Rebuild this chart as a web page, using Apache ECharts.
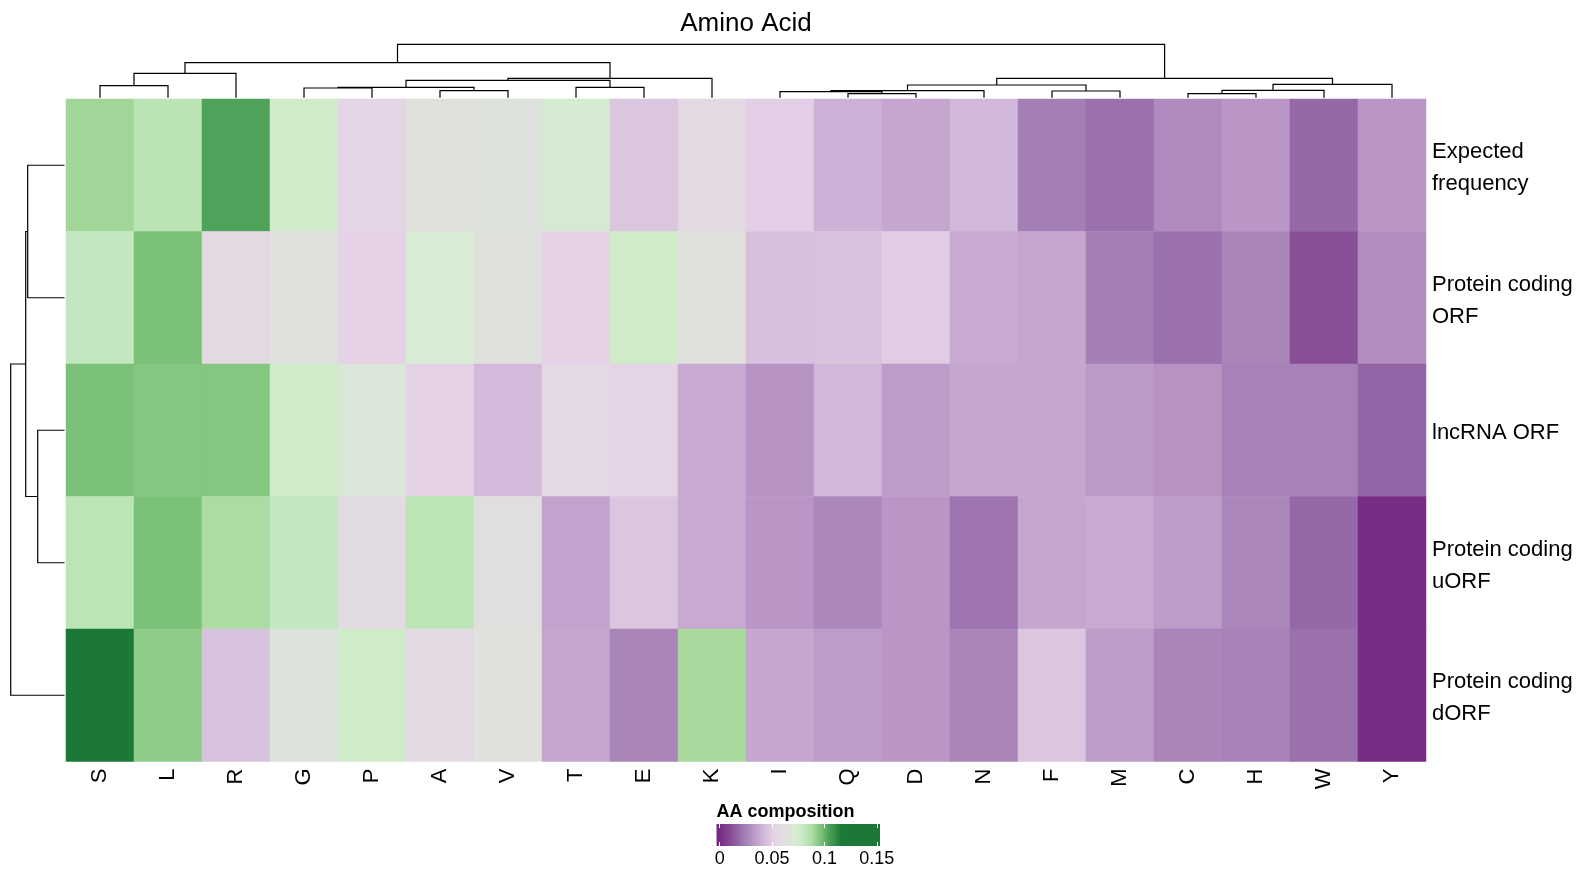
<!DOCTYPE html>
<html><head><meta charset="utf-8">
<script src="https://cdn.jsdelivr.net/npm/echarts@6/dist/echarts.min.js"></script>
<style>html,body{margin:0;padding:0;background:#fff}#c{width:1585px;height:875px}</style>
</head><body><div id="c"></div>
<script>
// ---------- data ----------
const aminoAcids = ['S','L','R','G','P','A','V','T','E','K','I','Q','D','N','F','M','C','H','W','Y'];
const rowNames = ['Expected\nfrequency','Protein coding\nORF','lncRNA ORF','Protein coding\nuORF','Protein coding\ndORF'];

const expectedFrequency = [0.090,0.084,0.104,0.076,0.052,0.063,0.066,0.073,0.047,0.056,0.050,0.040,0.037,0.042,0.024,0.020,0.028,0.032,0.018,0.032];
const proteinCodingORF  = [0.080,0.097,0.056,0.065,0.051,0.071,0.062,0.051,0.076,0.062,0.045,0.046,0.049,0.038,0.037,0.024,0.020,0.026,0.011,0.029];
const lncRNAORF         = [0.097,0.095,0.095,0.076,0.069,0.051,0.043,0.055,0.052,0.038,0.031,0.042,0.034,0.037,0.037,0.033,0.031,0.025,0.025,0.017];
const proteinCodingUORF = [0.083,0.097,0.088,0.080,0.058,0.083,0.061,0.036,0.047,0.038,0.032,0.027,0.032,0.021,0.037,0.038,0.034,0.027,0.018,0.001];
const proteinCodingDORF = [0.118,0.093,0.046,0.066,0.076,0.056,0.063,0.037,0.026,0.089,0.037,0.034,0.032,0.026,0.047,0.034,0.026,0.025,0.020,0.001];

// column dendrogram (hclust style: negative = leaf, positive = earlier merge), height
const colMerges = [
  [-1,-2,12.0],[1,-3,24.4],[-6,-7,7.0],[-4,-5,9.7],[4,3,10.4],[-8,-9,10.4],[5,6,17.4],[7,-10,19.4],[2,8,35.0],
  [-12,-13,4.0],[-11,10,6.0],[11,-14,7.0],[-15,-16,6.7],[12,13,12.7],[-17,-18,4.0],[15,-19,7.4],[16,-20,13.4],[14,17,19.4],
  [9,18,53.4]
];
// row dendrogram
const rowMerges = [[-1,-2,36.8],[-3,-4,26.8],[1,2,38.8],[3,-5,53.8]];

const legendTicks = [0, 0.05, 0.1, 0.15];
const legendMin = -0.003, legendMax = 0.153;
const scaleValues = [-0.003,0,0.011,0.018,0.024,0.028,0.032,0.037,0.042,0.047,0.051,0.056,0.062,0.066,0.071,0.076,0.080,0.084,0.089,0.093,0.097,0.104,0.116,0.153];
const scaleColors = ['#762a83','#762a83','#884f97','#9568a8','#a47fb6','#af8abe','#b996c6','#c4a6cf','#d1b7d9','#dac6df','#e5d2e7','#e3d9e3','#e0e0dc','#dee2dc','#d8ebd5','#d0ebca','#c3e7c0','#bae4b3','#a8da9e','#8fcb89','#7bc178','#4fa25a','#1b7837','#1b7837'];

// ---------- helpers ----------
const rows = [expectedFrequency, proteinCodingORF, lncRNAORF, proteinCodingUORF, proteinCodingDORF];
const heatData = [];
rows.forEach((r, ri) => r.forEach((v, ci) => heatData.push([ci, ri, v])));

function hex2rgb(h){return [parseInt(h.slice(1,3),16),parseInt(h.slice(3,5),16),parseInt(h.slice(5,7),16)];}
function colorAt(v){
  if (v <= scaleValues[0]) return scaleColors[0];
  for (let i=1;i<scaleValues.length;i++){
    if (v <= scaleValues[i]){
      const t=(v-scaleValues[i-1])/(scaleValues[i]-scaleValues[i-1]);
      const a=hex2rgb(scaleColors[i-1]), b=hex2rgb(scaleColors[i]);
      return 'rgb('+a.map((x,k)=>Math.round(x+(b[k]-x)*t)).join(',')+')';
    }
  }
  return scaleColors[scaleColors.length-1];
}
const denseColors = [];
const N = 157;
for (let i=0;i<N;i++) denseColors.push(colorAt(legendMin + (legendMax-legendMin)*i/(N-1)));
const gradStops = scaleValues.map((v,i)=>({offset:(v-legendMin)/(legendMax-legendMin), color:scaleColors[i]}));

function dendroSegments(merges){
  const pos=[], ht=[], out=[];
  const get = id => id < 0 ? [-id-1+0.5, 0] : [pos[id-1], ht[id-1]];
  merges.forEach((m,i)=>{
    const a=get(m[0]), b=get(m[1]);
    pos[i]=(a[0]+b[0])/2; ht[i]=m[2];
    out.push([a[0],a[1],b[0],b[1],m[2]]);
  });
  return out;
}
const colSeg = dendroSegments(colMerges);
const rowSeg = dendroSegments(rowMerges);

const FONT = 'Liberation Sans, Arial, Helvetica, sans-serif';
const chart = echarts.init(document.getElementById('c'));
const hidden = {show:false};

chart.setOption({
  animation:false,
  backgroundColor:'#fff',
  textStyle:{fontFamily:FONT},
  grid:[
    {left:66, top:99, width:1360, height:662.5},
    {left:66, top:44.3, width:1360, height:53.4},
    {left:10.7, top:99, width:53.8, height:662.5},
    {left:716.5, top:824, width:163.5, height:22},
    {left:66, top:102, width:1360, height:662.5}
  ],
  xAxis:[
    {gridIndex:0, type:'category', data:aminoAcids, position:'bottom',
     axisLine:hidden, axisTick:hidden, splitLine:hidden,
     axisLabel:{interval:0, rotate:90, margin:7, fontSize:22, color:'#000', fontFamily:FONT}},
    {gridIndex:1, type:'value', min:0, max:aminoAcids.length, show:false},
    {gridIndex:2, type:'value', min:0, max:53.8, inverse:true, show:false},
    {gridIndex:3, type:'value', min:legendMin, max:legendMax, position:'bottom', z:10,
     axisLine:hidden, splitLine:hidden,
     axisTick:{show:true, inside:true, length:4, customValues:legendTicks, lineStyle:{color:'#fff', width:1}},
     axisLabel:{show:true, customValues:legendTicks, margin:4, fontSize:18, color:'#000', fontFamily:FONT, formatter:v=>String(v)}},
    {gridIndex:3, type:'value', min:legendMin, max:legendMax, position:'top', z:10,
     axisLine:hidden, splitLine:hidden, axisLabel:hidden,
     axisTick:{show:true, inside:true, length:4, customValues:legendTicks, lineStyle:{color:'#fff', width:1}}},
    {gridIndex:4, type:'category', data:aminoAcids, show:false}
  ],
  yAxis:[
    {gridIndex:0, type:'category', data:rowNames, inverse:true, show:false},
    {gridIndex:1, type:'value', min:0, max:53.4, show:false},
    {gridIndex:2, type:'value', min:0, max:rowNames.length, inverse:true, show:false},
    {gridIndex:3, type:'value', min:0, max:1, show:false},
    {gridIndex:4, type:'category', data:rowNames, position:'right', inverse:true,
     axisLine:hidden, axisTick:hidden, splitLine:hidden,
     axisLabel:{margin:6, fontSize:22, lineHeight:32, color:'#000', fontFamily:FONT}}
  ],
  visualMap:{type:'continuous', show:false, seriesIndex:0, dimension:2, min:legendMin, max:legendMax, inRange:{color:denseColors}},
  graphic:[
    {type:'text', x:746, y:24, style:{text:'Amino Acid', font:'26px '+FONT, fill:'#000', align:'center', verticalAlign:'middle'}},
    {type:'text', x:716.5, y:812, style:{text:'AA composition', font:'bold 18px '+FONT, fill:'#000', align:'left', verticalAlign:'middle'}}
  ],
  series:[
    {type:'heatmap', xAxisIndex:0, yAxisIndex:0, data:heatData, itemStyle:{borderWidth:0}, emphasis:{disabled:true}, silent:true},
    {type:'custom', xAxisIndex:1, yAxisIndex:1, data:colSeg, silent:true, clip:false,
     renderItem:(params, api)=>{
       const x1=api.value(0), h1=api.value(1), x2=api.value(2), h2=api.value(3), h=api.value(4);
       return {type:'polyline', shape:{points:[api.coord([x1,h1]),api.coord([x1,h]),api.coord([x2,h]),api.coord([x2,h2])]},
               style:{stroke:'#000', lineWidth:1.2, fill:null}};
     }},
    {type:'custom', xAxisIndex:2, yAxisIndex:2, data:rowSeg, silent:true, clip:false,
     renderItem:(params, api)=>{
       const y1=api.value(0), h1=api.value(1), y2=api.value(2), h2=api.value(3), h=api.value(4);
       return {type:'polyline', shape:{points:[api.coord([h1,y1]),api.coord([h,y1]),api.coord([h,y2]),api.coord([h2,y2])]},
               style:{stroke:'#000', lineWidth:1.2, fill:null}};
     }},
    {type:'custom', xAxisIndex:3, yAxisIndex:3, data:[[legendMin, legendMax]], silent:true, z:2,
     renderItem:(params, api)=>{
       const p0=api.coord([api.value(0),1]), p1=api.coord([api.value(1),0]);
       return {type:'rect', shape:{x:p0[0], y:p0[1], width:p1[0]-p0[0], height:p1[1]-p0[1]},
               style:{fill:new echarts.graphic.LinearGradient(0,0,1,0,gradStops)}};
     }}
  ]
});
</script>
</body></html>
